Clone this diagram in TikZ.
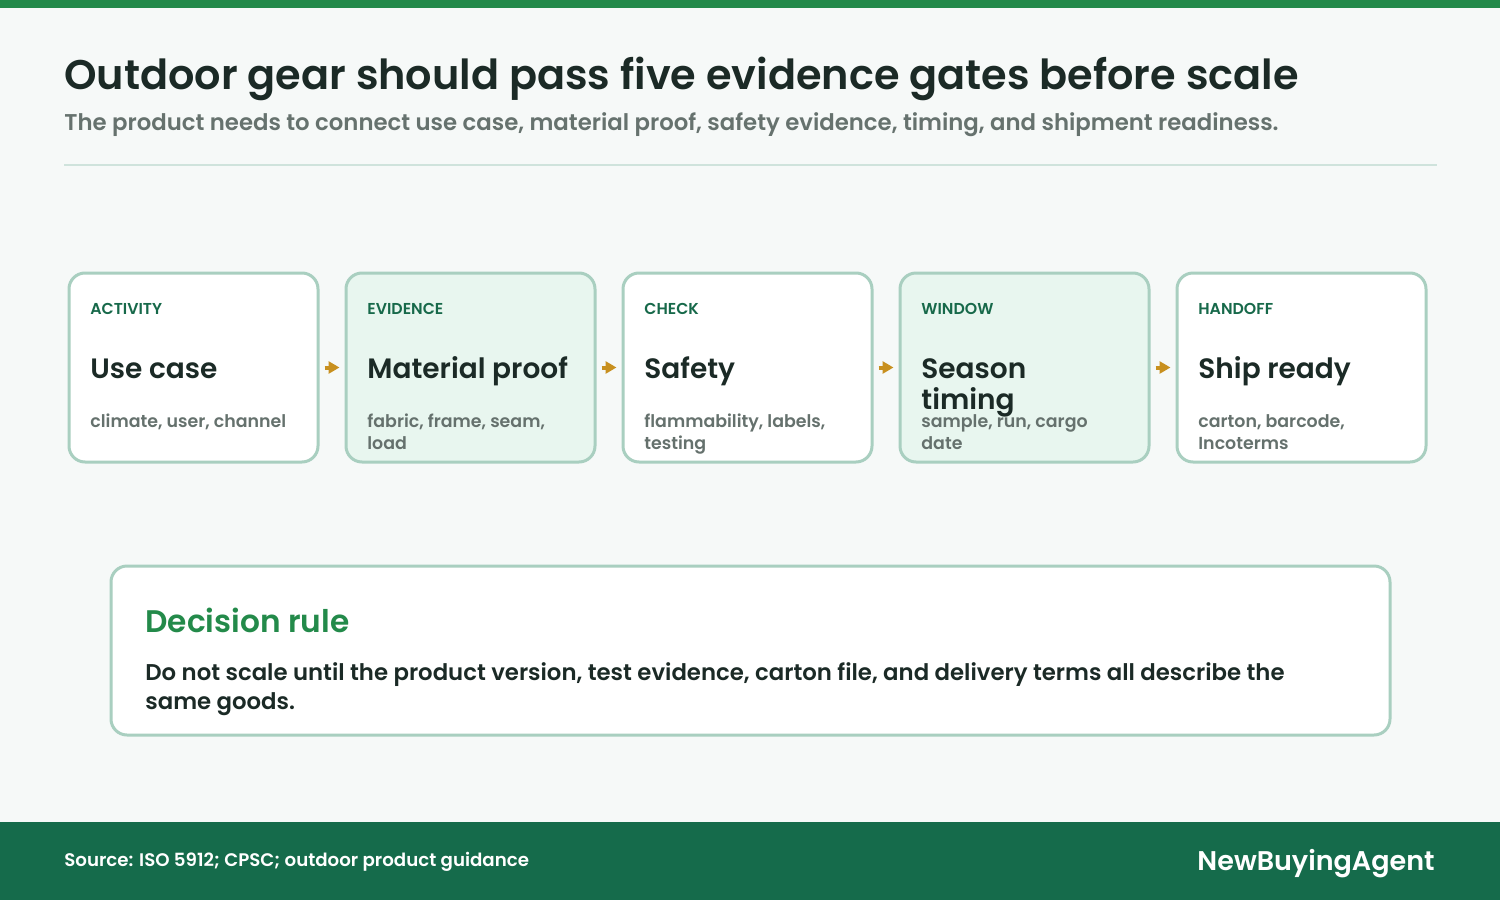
\documentclass[tikz,border=0pt]{standalone}
\usepackage{fontspec}
\setmainfont{Poppins}
\newfontfamily\psemi{Poppins SemiBold}
\newfontfamily\pmed{Poppins Medium}
\usetikzlibrary{arrows.meta}
\definecolor{bgc}{HTML}{F6F9F8}
\definecolor{topbar}{HTML}{238A4A}
\definecolor{titlec}{HTML}{1B2A26}
\definecolor{subc}{HTML}{66726E}
\definecolor{divc}{HTML}{CFE3DC}
\definecolor{cardborder}{HTML}{A9CFC0}
\definecolor{cardtint}{HTML}{E8F6EF}
\definecolor{labelc}{HTML}{17694A}
\definecolor{descc}{HTML}{65716D}
\definecolor{arrowc}{HTML}{C8901F}
\definecolor{greenc}{HTML}{238A4A}
\definecolor{footc}{HTML}{156B4B}
\tikzset{
  txt/.style={inner sep=0pt, anchor=base west},
  cardbox/.style={draw=cardborder, line width=1.5pt, rounded corners=8pt, minimum width=124.5pt, minimum height=94.5pt, inner sep=0pt},
  cardwhite/.style={cardbox, fill=white},
  cardgreen/.style={cardbox, fill=cardtint},
  lbl/.style={txt, text=labelc, font=\psemi\fontsize{7.9pt}{9pt}\selectfont},
  ctitle/.style={txt, text=titlec, font=\psemi\fontsize{14pt}{16pt}\selectfont},
  cdesc/.style={txt, text=descc, font=\psemi\fontsize{8.7pt}{11pt}\selectfont},
  arr/.style={draw=arrowc, line width=2pt, -{Triangle[length=5.5pt,width=6pt]}, shorten <=2.5pt, shorten >=2.5pt},
}
\begin{document}
\begin{tikzpicture}[x=0.5pt,y=-0.5pt]
\useasboundingbox (0,0) rectangle (1500,900);
\fill[bgc] (0,0) rectangle (1500,900);
\fill[topbar] (0,0) rectangle (1500,8);
\node[txt, text=titlec, font=\psemi\fontsize{20.7pt}{24pt}\selectfont] (title) at (64,89) {Outdoor gear should pass five evidence gates before scale};
\node[txt, text=subc, font=\psemi\fontsize{11.4pt}{14pt}\selectfont] (subtitle) at (64,130) {The product needs to connect use case, material proof, safety evidence, timing, and shipment readiness.};
\draw[divc, line width=1pt] (64,165) coordinate (d1) -- (1437,165) coordinate (d2);
% cards
\node[cardwhite] (c1) at (193.5,367.5) {};
\node[cardgreen] (c2) at (470.5,367.5) {};
\node[cardwhite] (c3) at (747.5,367.5) {};
\node[cardgreen] (c4) at (1024.5,367.5) {};
\node[cardwhite] (c5) at (1301.5,367.5) {};
\draw[arr] (c1) -- (c2);
\draw[arr] (c2) -- (c3);
\draw[arr] (c3) -- (c4);
\draw[arr] (c4) -- (c5);
% card 1
\node[lbl] (l1) at (90,314) {ACTIVITY};
\node[ctitle] (t1) at (90,378) {Use case};
\node[cdesc] (e1) at (90,427) {climate, user, channel};
% card 2
\node[lbl] (l2) at (367,314) {EVIDENCE};
\node[ctitle] (t2) at (367,378) {Material proof};
\node[cdesc] (e2) at (367,427) {fabric, frame, seam,};
\node[cdesc] (e2b) at (367,449) {load};
% card 3
\node[lbl] (l3) at (644,314) {CHECK};
\node[ctitle] (t3) at (644,378) {Safety};
\node[cdesc] (e3) at (644,427) {flammability, labels,};
\node[cdesc] (e3b) at (644,449) {testing};
% card 4
\node[lbl] (l4) at (921,314) {WINDOW};
\node[ctitle] (t4) at (921,378) {Season};
\node[ctitle] (t4b) at (921,409) {timing};
\node[cdesc] (e4) at (921,427) {sample, run, cargo};
\node[cdesc] (e4b) at (921,449) {date};
% card 5
\node[lbl] (l5) at (1198,314) {HANDOFF};
\node[ctitle] (t5) at (1198,378) {Ship ready};
\node[cdesc] (e5) at (1198,427) {carton, barcode,};
\node[cdesc] (e5b) at (1198,449) {Incoterms};
% decision
\node[draw=cardborder, line width=1.5pt, rounded corners=8pt, fill=white, minimum width=639.5pt, minimum height=84.5pt, inner sep=0pt] (dec) at (750.5,650.5) {};
\node[txt, text=greenc, font=\psemi\fontsize{15.6pt}{19pt}\selectfont] (dt) at (145,632) {Decision rule};
\node[txt, text=titlec, font=\psemi\fontsize{11.4pt}{14pt}\selectfont] (db1) at (145,680) {Do not scale until the product version, test evidence, carton file, and delivery terms all describe the};
\node[txt, text=titlec, font=\psemi\fontsize{11.4pt}{14pt}\selectfont] (db2) at (145,709) {same goods.};
% footer
\fill[footc] (0,822) rectangle (1500,900);
\node[txt, text=white, font=\psemi\fontsize{9.1pt}{11pt}\selectfont] (src) at (64,866) {Source: ISO 5912; CPSC; outdoor product guidance};
\node[inner sep=0pt, anchor=base east, text=white, font=\psemi\fontsize{13.5pt}{16pt}\selectfont] (brand) at (1435,870) {NewBuyingAgent};
\end{tikzpicture}
\end{document}
